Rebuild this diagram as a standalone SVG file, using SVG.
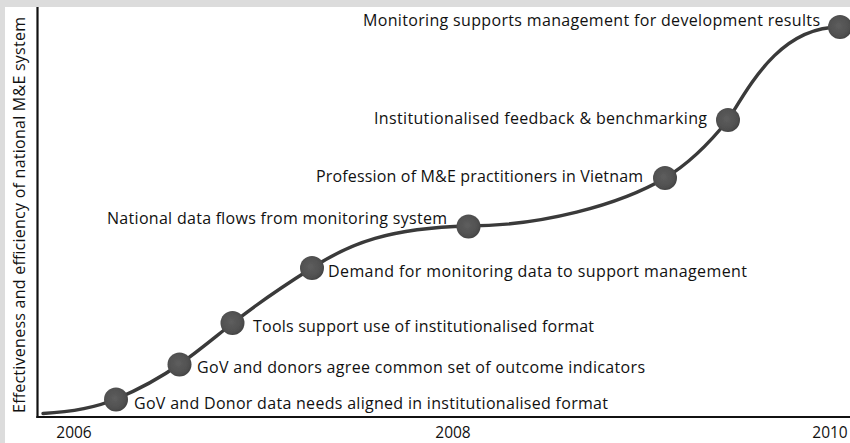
<svg xmlns="http://www.w3.org/2000/svg" width="850" height="443" viewBox="0 0 850 443">
  <defs>
    <radialGradient id="dotFill" cx="0.45" cy="0.45" r="0.6">
      <stop offset="0" stop-color="#5e5e5e"/>
      <stop offset="0.75" stop-color="#4f4f4f"/>
      <stop offset="1" stop-color="#3e3e3e"/>
    </radialGradient>
    <filter id="soft" x="-20%" y="-20%" width="140%" height="140%">
      <feGaussianBlur stdDeviation="0.6"/>
    </filter>
  </defs>
  <style>
    .lbl { font-family: "Open Sans", "Noto Sans", "Liberation Sans", sans-serif; font-size: 16px; fill: #111; }
    .year { font-family: "Open Sans", "Noto Sans", "Liberation Sans", sans-serif; font-size: 15.5px; fill: #111; }
    .axis { stroke: #111; stroke-width: 2.2; fill: none; }
    .curve { stroke: #3a3a3a; stroke-width: 3.4; fill: none; stroke-linecap: round; }
    .dot { fill: url(#dotFill); filter: url(#soft); }
  </style>

  <!-- page frame -->
  <rect x="0" y="0" width="850" height="443" fill="#dcdcdc"/>
  <rect x="5" y="7" width="845" height="436" fill="#ffffff"/>

  <!-- axes -->
  <g id="axes">
    <line class="axis" x1="37.5" y1="7" x2="37.5" y2="418"/>
    <line class="axis" x1="36.4" y1="417" x2="850" y2="417"/>
    <text class="lbl" transform="translate(25,215) rotate(-90)" text-anchor="middle" textLength="396">Effectiveness and efficiency of national M&amp;E system</text>
    <text class="year" x="74" y="438" text-anchor="middle">2006</text>
    <text class="year" x="453" y="438" text-anchor="middle">2008</text>
    <text class="year" x="830" y="438" text-anchor="middle">2010</text>
  </g>

  <!-- progression curve -->
  <g id="connectors">
    <path class="curve" d="M 43 413.5
      C 70 412, 95 408, 116 399
      C 140 389, 160 378, 180 364
      C 200 350, 215 337, 233 323
      C 258 303, 285 285, 312 268
      C 350 243, 390 228, 468 226
      C 540 226, 620 205, 665 178
      C 690 163, 712 140, 728 120
      C 750 85, 780 27, 840 27"/>
  </g>

  <!-- milestones -->
  <g id="node-1">
    <circle class="dot" cx="116" cy="399.5" r="12"/>
    <text class="lbl" x="134" y="409" textLength="474">GoV and Donor data needs aligned in institutionalised format</text>
  </g>
  <g id="node-2">
    <circle class="dot" cx="179.5" cy="364.5" r="12"/>
    <text class="lbl" x="197" y="373" textLength="448">GoV and donors agree common set of outcome indicators</text>
  </g>
  <g id="node-3">
    <circle class="dot" cx="232.5" cy="323" r="12"/>
    <text class="lbl" x="253" y="332" textLength="341">Tools support use of institutionalised format</text>
  </g>
  <g id="node-4">
    <circle class="dot" cx="312" cy="268" r="12"/>
    <text class="lbl" x="328" y="277" textLength="419">Demand for monitoring data to support management</text>
  </g>
  <g id="node-5">
    <circle class="dot" cx="468.5" cy="226.5" r="12"/>
    <text class="lbl" x="107" y="224" textLength="340">National data flows from monitoring system</text>
  </g>
  <g id="node-6">
    <circle class="dot" cx="665" cy="178" r="12"/>
    <text class="lbl" x="316" y="182" textLength="327">Profession of M&amp;E practitioners in Vietnam</text>
  </g>
  <g id="node-7">
    <circle class="dot" cx="728" cy="120" r="12"/>
    <text class="lbl" x="374" y="123.5" textLength="333">Institutionalised feedback &amp; benchmarking</text>
  </g>
  <g id="node-8">
    <circle class="dot" cx="840" cy="27" r="12"/>
    <text class="lbl" x="363" y="26" textLength="457">Monitoring supports management for development results</text>
  </g>
</svg>
